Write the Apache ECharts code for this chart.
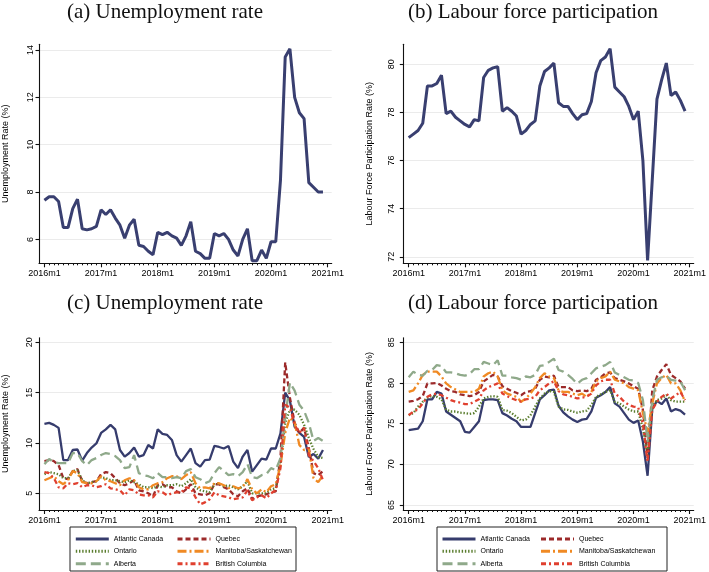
<!DOCTYPE html>
<html><head><meta charset="utf-8">
<script src="https://cdn.jsdelivr.net/npm/echarts@6/dist/echarts.min.js"></script>
<style>html,body{margin:0;padding:0;background:#fff}#c{width:709px;height:572px}</style>
</head><body><div id="c"></div>
<script>
// ---------- data ----------
const xTickPositions = [0, 12, 24, 36, 48, 60];
const xTickLabels = ['2016m1', '2017m1', '2018m1', '2019m1', '2020m1', '2021m1'];
const yTicksA = [6, 8, 10, 12, 14];
const yTicksB = [72, 74, 76, 78, 80];
const yTicksC = [5, 10, 15, 20];
const yTicksD = [65, 70, 75, 80, 85];
const regions = ['Atlantic Canada', 'Quebec', 'Ontario', 'Manitoba/Saskatchewan', 'Alberta', 'British Columbia'];

const urTotal = [7.65,7.8,7.8,7.6,6.5,6.5,7.3,7.7,6.45,6.4,6.45,6.55,
  7.25,7.05,7.25,6.9,6.6,6.05,6.6,6.85,5.75,5.7,5.5,5.35,
  6.3,6.2,6.3,6.15,6.05,5.75,6.15,6.75,5.5,5.4,5.2,5.2,
  6.25,6.15,6.25,6.0,5.55,5.3,6.0,6.45,5.1,5.1,5.55,5.2,
  5.9,5.9,8.5,13.7,14.05,12.0,11.35,11.1,8.4,8.2,8.0,8.0];

const lfpTotal = [76.95,77.1,77.25,77.55,79.1,79.1,79.2,79.55,77.95,78.05,77.8,77.65,
  77.5,77.4,77.7,77.65,79.45,79.75,79.85,79.9,78.05,78.2,78.05,77.85,
  77.1,77.25,77.5,77.65,79.1,79.7,79.85,80.05,78.4,78.25,78.25,77.95,
  77.7,77.9,77.95,78.45,79.65,80.15,80.3,80.65,79.05,78.85,78.65,78.25,
  77.7,78.05,76.0,71.85,75.2,78.55,79.35,80.05,78.7,78.85,78.5,78.05];

const urAtlantic = [11.9,12.0,11.8,11.5,8.3,8.3,9.3,9.35,8.25,9.0,9.55,9.95,
  11.0,11.35,11.8,11.35,9.3,8.65,9.0,9.55,8.65,8.8,9.8,9.45,
  11.35,10.9,10.8,10.3,8.8,8.15,8.8,9.45,8.0,7.65,8.3,8.35,
  9.7,9.6,9.45,9.7,8.15,7.5,8.65,9.3,7.15,7.8,8.45,8.35,
  9.45,9.45,10.95,15.0,14.2,11.6,11.0,10.6,8.6,8.9,8.45,9.3];
const urQuebec = [8.2,8.3,8.2,7.8,6.5,6.4,7.2,7.4,6.2,6.0,6.1,6.2,
  6.9,7.1,7.0,6.5,6.0,5.8,6.0,6.3,5.3,5.2,5.0,4.7,
  5.8,5.9,5.6,5.6,5.2,5.0,5.4,5.9,5.0,4.9,4.8,5.0,
  5.9,5.9,5.6,5.4,4.9,4.7,5.2,5.5,4.4,4.7,4.8,4.9,
  5.1,5.2,8.5,18.0,14.5,12.0,11.0,11.5,9.5,7.0,6.8,7.2];
const urOntario = [6.9,7.1,7.0,6.9,6.5,6.5,7.2,7.3,6.3,6.0,6.1,6.2,
  6.6,6.5,6.3,6.3,6.2,6.1,6.3,6.1,5.9,5.6,5.6,5.5,
  5.7,5.6,5.8,5.8,5.9,5.7,6.0,6.4,5.6,5.3,5.2,5.1,
  5.9,6.0,5.7,5.8,5.6,5.4,5.7,6.2,5.0,5.0,5.0,5.0,
  5.4,5.5,7.9,12.0,13.3,13.3,12.8,11.8,10.5,9.4,8.6,8.5];
const urManSask = [6.3,6.5,6.7,6.2,5.9,6.3,7.2,7.0,6.1,6.0,6.0,6.2,
  6.7,6.3,6.2,6.0,5.8,6.3,6.5,6.3,5.6,5.4,5.4,5.8,
  6.0,6.1,6.5,6.7,6.7,6.4,6.8,7.1,6.0,5.5,5.6,5.5,
  6.0,6.0,5.8,5.5,5.7,5.5,5.6,6.4,5.4,5.0,5.4,5.1,
  5.7,5.9,7.8,11.0,12.5,12.0,9.8,9.3,9.4,6.5,6.1,6.8];
const urAlberta = [7.9,8.4,8.1,8.0,8.0,8.0,9.0,9.0,8.2,7.8,8.3,8.5,
  8.8,9.0,8.9,8.7,8.3,7.5,7.6,8.8,7.0,6.8,6.7,6.5,
  7.0,6.6,6.6,6.5,6.6,6.5,7.2,7.4,6.6,6.4,6.0,6.2,
  7.0,7.6,7.2,6.8,6.9,6.7,7.1,7.9,6.6,6.5,6.8,6.9,
  7.5,7.3,8.5,12.5,16.0,15.2,13.8,13.2,12.0,10.2,10.5,10.2];
const urBC = [7.1,7.0,6.5,5.6,5.5,6.0,5.9,6.0,5.6,5.8,5.8,5.6,
  5.7,5.9,5.5,5.4,5.3,4.8,5.4,5.3,4.9,4.8,4.8,4.6,
  5.2,5.1,4.8,5.0,5.1,5.1,5.6,5.5,4.6,3.9,4.1,4.4,
  5.1,4.8,4.7,4.6,4.4,4.5,4.6,5.3,4.3,4.6,4.8,4.5,
  5.0,5.3,7.5,13.8,13.5,11.8,11.0,11.5,8.8,8.2,7.5,6.3];

const lfpAtlantic = [74.2,74.3,74.4,75.3,78.0,78.0,78.9,78.7,76.5,76.1,75.7,75.3,
  74.0,73.9,74.6,75.3,77.9,78.0,78.0,77.9,76.3,76.0,75.6,75.3,
  74.6,74.6,74.6,76.3,78.0,78.5,79.1,79.2,77.2,76.4,75.9,75.5,
  75.2,75.5,75.6,76.5,78.2,78.5,78.9,79.5,77.5,77.1,76.3,75.5,
  75.1,75.4,72.8,68.6,76.8,77.8,77.4,78.1,76.5,76.8,76.6,76.1];
const lfpQuebec = [77.7,77.8,78.0,78.4,79.95,79.95,80.0,79.7,79.3,79.0,78.9,78.6,
  78.5,78.4,78.5,78.9,80.2,80.6,81.0,80.8,79.6,79.3,79.0,78.8,
  78.5,78.9,79.0,79.3,80.4,80.8,80.7,80.9,79.5,79.5,79.5,79.1,
  79.0,79.1,79.0,79.3,80.4,80.7,81.2,81.3,80.6,80.4,80.2,79.95,
  79.6,79.3,76.7,70.8,79.1,80.8,81.6,82.3,81.0,80.6,80.2,79.3];
const lfpOntario = [76.05,76.3,77.1,77.7,78.2,78.4,78.3,78.0,76.7,76.5,76.5,76.35,
  76.3,76.2,76.3,77.1,78.1,78.3,78.4,78.3,76.7,76.6,76.3,75.85,
  75.4,75.5,76.05,77.1,78.1,78.7,79.0,78.9,77.1,76.75,76.7,76.5,
  76.35,76.5,76.6,77.3,78.3,78.6,78.9,79.1,77.7,77.5,77.1,76.75,
  76.5,76.5,74.4,71.2,77.1,77.9,78.1,78.5,77.9,77.7,77.7,77.7];
const lfpManSask = [78.9,79.1,79.95,81.0,81.4,81.4,81.4,80.8,79.95,79.5,79.2,78.9,
  78.9,78.9,78.9,79.3,80.8,81.2,81.4,80.8,79.1,78.7,78.5,78.3,
  77.7,78.1,78.7,79.5,80.6,81.2,80.8,80.6,79.1,78.9,78.9,78.7,
  78.5,78.7,78.3,78.9,80.2,80.6,80.8,81.4,80.4,80.2,79.95,79.5,
  79.3,79.1,76.3,74.0,77.5,79.95,80.6,81.0,79.95,79.95,79.1,77.7];
const lfpAlberta = [80.7,81.4,81.0,80.9,81.5,81.6,82.2,82.1,81.3,81.3,81.2,81.0,
  80.9,81.1,81.7,81.7,82.6,82.4,82.2,82.8,80.9,80.9,80.7,80.6,
  80.4,80.8,80.7,81.0,82.1,82.2,82.6,83.0,81.6,81.4,81.0,80.5,
  79.9,80.4,80.6,81.2,81.8,82.0,82.2,82.6,81.3,81.0,80.7,80.4,
  80.3,80.0,77.9,72.8,77.9,80.4,80.7,80.9,80.4,80.3,80.2,79.1];
const lfpBC = [76.05,76.5,76.75,77.5,78.3,78.6,78.7,78.5,78.2,77.9,77.7,77.6,
  77.4,77.4,77.7,78.0,79.1,79.5,79.7,79.95,78.7,78.4,78.1,77.9,
  77.7,78.0,78.1,78.3,79.1,79.5,79.95,80.2,79.0,78.6,78.5,78.3,
  78.1,78.2,78.3,78.7,79.7,80.2,80.4,80.4,78.7,78.3,77.7,77.3,
  77.1,77.0,75.0,70.3,76.7,77.7,78.3,78.7,78.1,78.5,78.9,77.9];

const urRegional = [urAtlantic, urQuebec, urOntario, urManSask, urAlberta, urBC];
const lfpRegional = [lfpAtlantic, lfpQuebec, lfpOntario, lfpManSask, lfpAlberta, lfpBC];

// monthly minor tick positions (one per month, 2016m1 .. 2021m1)
const monthTicks = [];
for (let m = 0; m <= 60; m++) monthTicks.push(m);

// ---------- styles ----------
const regionColors = ['#363c6d', '#9c2a2a', '#5a7d2e', '#f08a24', '#8fa98a', '#e0402f'];
const regionDash = ['solid', [5, 3], [1.4, 1.8], [9, 3, 2, 3], [10, 5], [5, 3, 2, 3]];
const navy = '#393f70';
const sans = 'Liberation Sans';
const serif = 'Liberation Serif';
const axisColor = '#111';

const xMin = -1.15, xMax = 60.85;
const grids = [
  {left: 37.3, top: 44.3, width: 294.4, height: 219},
  {left: 403.3, top: 44.3, width: 294.7, height: 219},
  {left: 37.3, top: 337.7, width: 294.4, height: 172.3},
  {left: 403.3, top: 337.7, width: 294.7, height: 172.3}
];
const yRanges = [[4.99, 14.24], [71.73, 80.83], [3.34, 20.46], [64.39, 85.57]];
const yTicks = [yTicksA, yTicksB, yTicksC, yTicksD];
const yLabelMargin = [3.5, 7.5, 5, 7];
const yNames = ['Unemployment Rate (%)', 'Labour Force Participation Rate (%)',
                'Unemployment Rate (%)', 'Labour Force Participation Rate (%)'];

function toXY(arr) { return arr.map((v, i) => [i, v]); }

const xAxesMain = grids.map((g, gi) => ({
  type: 'value', gridIndex: gi, min: xMin, max: xMax, position: 'bottom',
  axisLine: {show: true, onZero: false, lineStyle: {color: axisColor, width: 1.1}},
  axisTick: {show: true, length: 4, customValues: xTickPositions, lineStyle: {color: axisColor, width: 1.1}},
  axisLabel: {customValues: xTickPositions, margin: 6, fontFamily: sans, fontSize: 9, color: '#000',
    formatter: v => xTickLabels[xTickPositions.indexOf(Math.round(v))] || ''},
  splitLine: {show: false}
}));
const xAxesMinor = grids.map((g, gi) => ({
  type: 'value', gridIndex: gi, min: xMin, max: xMax, position: 'bottom', offset: 0,
  axisLine: {show: false, onZero: false},
  axisTick: {show: true, length: 2, customValues: monthTicks, lineStyle: {color: axisColor, width: 1}},
  axisLabel: {show: false},
  splitLine: {show: false}
}));

const yAxes = grids.map((g, gi) => ({
  type: 'value', gridIndex: gi, min: yRanges[gi][0], max: yRanges[gi][1],
  name: yNames[gi], nameLocation: 'middle', nameGap: 29,
  nameTextStyle: {fontFamily: sans, fontSize: 9, color: '#000'},
  axisLine: {show: true, onZero: false, lineStyle: {color: axisColor, width: 1.1}},
  axisTick: {show: true, length: 3.5, customValues: yTicks[gi], lineStyle: {color: axisColor, width: 1.1}},
  axisLabel: {customValues: yTicks[gi], rotate: 90, margin: yLabelMargin[gi], fontFamily: sans, fontSize: 9, color: '#000'},
  splitLine: {show: true, lineStyle: {color: '#ebebeb', width: 1}}
}));

const series = [
  {type: 'line', xAxisIndex: 0, yAxisIndex: 0, data: toXY(urTotal), symbol: 'none',
   lineStyle: {color: navy, width: 3}, itemStyle: {color: navy}, z: 3},
  {type: 'line', xAxisIndex: 1, yAxisIndex: 1, data: toXY(lfpTotal), symbol: 'none',
   lineStyle: {color: navy, width: 3}, itemStyle: {color: navy}, z: 3}
];
[urRegional, lfpRegional].forEach((set, k) => {
  set.forEach((arr, r) => {
    series.push({
      type: 'line', name: regions[r], xAxisIndex: 2 + k, yAxisIndex: 2 + k,
      data: toXY(arr), symbol: 'none', z: 3 + r,
      lineStyle: {color: regionColors[r], width: 2.3, type: regionDash[r]},
      itemStyle: {color: regionColors[r]}
    });
  });
});

function legend(left, names) {
  return {
    left: left, top: 535, orient: 'vertical', padding: 0, selectedMode: false,
    itemWidth: 33, itemHeight: 8, itemGap: 4.35,
    data: names,
    itemStyle: {opacity: 0, borderWidth: 0},
    lineStyle: {width: 3},
    textStyle: {fontFamily: sans, fontSize: 7, color: '#000', lineHeight: 8, padding: [0, 0, 0, 0]}
  };
}
const leftCol = [regions[0], regions[2], regions[4]];
const rightCol = [regions[1], regions[3], regions[5]];

const titles = [
  ['(a) Unemployment rate', 165, 12],
  ['(b) Labour force participation', 533, 12],
  ['(c) Unemployment rate', 165, 303.5],
  ['(d) Labour force participation', 533, 303.5]
];

const graphic = titles.map(t => ({
  type: 'text', x: t[1], y: t[2], silent: true,
  style: {text: t[0], font: '21px "' + serif + '"', fill: '#111', align: 'center', verticalAlign: 'middle'}
})).concat([
  {type: 'rect', shape: {x: 70, y: 527, width: 226, height: 44}, style: {fill: 'none', stroke: '#222', lineWidth: 1}, silent: true},
  {type: 'rect', shape: {x: 437, y: 527, width: 230, height: 44}, style: {fill: 'none', stroke: '#222', lineWidth: 1}, silent: true}
]);

const chart = echarts.init(document.getElementById('c'), null, {renderer: 'canvas'});
chart.setOption({
  backgroundColor: '#fff',
  animation: false,
  grid: grids.map(g => Object.assign({containLabel: false}, g)),
  xAxis: xAxesMain.concat(xAxesMinor),
  yAxis: yAxes,
  legend: [legend(74.3, leftCol), legend(176, rightCol), legend(441, leftCol), legend(539.5, rightCol)],
  graphic: graphic,
  series: series
});
</script></body></html>
